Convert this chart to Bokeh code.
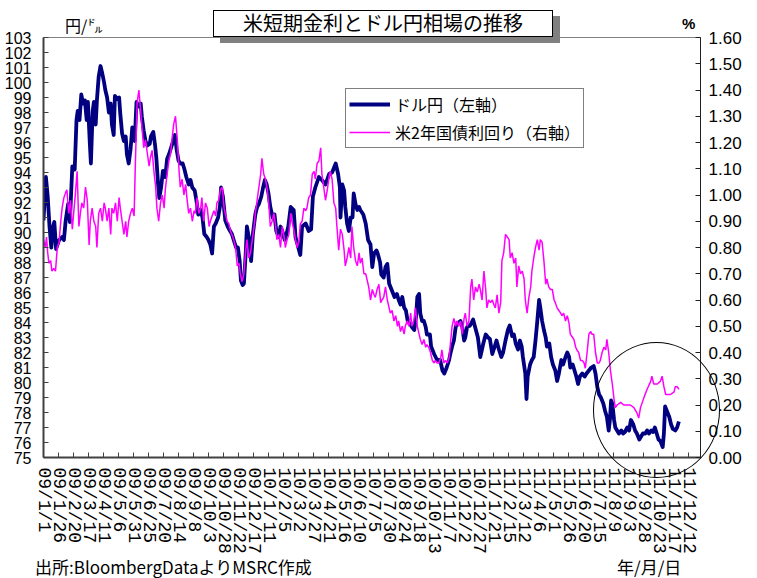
import pandas as pd
from bokeh.plotting import figure
from bokeh.layouts import column
from bokeh.models import (Range1d, LinearAxis, FixedTicker, NumeralTickFormatter,
                          CustomJSTickFormatter, Legend, LegendItem, Div,
                          ColumnDataSource, AllLabels)
from bokeh.embed import file_html
from bokeh.resources import INLINE

# ---------------- data ----------------
START = "2009-01-01"
END = "2012-01-01"

x_labels = ["09/1/1", "09/1/26", "09/2/20", "09/3/17", "09/4/11", "09/5/6", "09/5/31",
            "09/6/25", "09/7/20", "09/8/14", "09/9/8", "09/10/3", "09/10/28", "09/11/22",
            "09/12/17", "10/1/11", "10/2/5", "10/3/2", "10/3/27", "10/4/21", "10/5/16",
            "10/6/10", "10/7/5", "10/7/30", "10/8/24", "10/9/18", "10/10/13", "10/11/7",
            "10/12/2", "10/12/27", "11/1/21", "11/2/15", "11/3/12", "11/4/6", "11/5/1",
            "11/5/26", "11/6/20", "11/7/15", "11/8/9", "11/9/3", "11/9/28", "11/10/23",
            "11/11/17", "11/12/12"]

jpy_ticks = list(range(75, 104))
yield_ticks = [0.0, 0.1, 0.2, 0.3, 0.4, 0.5, 0.6, 0.7, 0.8, 0.9, 1.0,
               1.1, 1.2, 1.3, 1.4, 1.5, 1.6]

TITLE = "米短期金利とドル円相場の推移"
LEFT_UNIT = "円/㌦"
RIGHT_UNIT = "%"
SOURCE = "出所:BloombergDataよりMSRC作成"
X_UNIT = "年/月/日"
SERIES_NAMES = ["ドル円（左軸）", "米2年国債利回り（右軸）"]

# USD/JPY (days since 2009-01-01)
jpy_day = [0, 4, 7, 10, 13, 16, 18, 21, 26, 31,
           34, 37, 41, 44, 48, 52, 55, 57, 60, 63,
           66, 69, 72, 74, 77, 79, 82, 84, 87, 89,
           92, 95, 98, 101, 103, 106, 109, 112, 114, 117,
           119, 123, 126, 128, 131, 134, 137, 139, 142, 145,
           148, 152, 155, 158, 162, 164, 167, 170, 173, 177,
           179, 183, 186, 188, 191, 193, 196, 199, 203, 206,
           209, 213, 216, 219, 222, 225, 228, 232, 235, 238,
           242, 245, 248, 252, 255, 258, 262, 265, 268, 272,
           275, 278, 281, 284, 287, 291, 294, 296, 299, 303,
           307, 311, 314, 317, 321, 324, 327, 329, 332, 334,
           337, 339, 343, 346, 349, 353, 356, 359, 363, 366,
           369, 372, 375, 378, 382, 385, 388, 392, 395, 398,
           402, 405, 408,
           412, 417, 420, 426, 428, 431, 437, 442, 446, 449,
           453, 459, 464, 470, 476, 481, 487, 491, 494, 495,
           498, 501, 503, 506, 509, 512, 515, 517, 520, 523,
           526, 528, 533, 537, 541, 545, 548, 551, 555, 557,
           561, 563, 567, 570, 573, 576, 578, 581, 585, 589,
           592, 595, 598, 601, 604, 607, 611, 614, 618, 621,
           623, 626, 628, 631, 634, 637, 639, 644, 646, 651,
           656, 661, 665, 668, 672, 676, 678, 681, 684, 687,
           689, 695, 698, 701, 703, 706,
           711, 716, 720, 724, 728, 733, 737, 741, 744, 748,
           752, 755, 759, 763, 766, 770, 774, 777, 781, 784,
           787, 791, 794, 797, 799, 803, 805, 807, 811, 814,
           817, 820, 823, 826, 828, 831, 834, 837, 839, 843,
           846, 849, 853, 856, 859, 863, 866, 870, 873, 876,
           878, 882, 885, 888, 891, 894, 898, 902, 905, 909,
           913, 917, 920, 923, 926, 929, 933, 936, 939, 942,
           944, 946, 948, 951, 953, 956, 959, 963, 966, 969,
           973, 976, 979, 983, 986, 989, 993, 996, 999, 1003,
           1006, 1009, 1013, 1016, 1019, 1022, 1025, 1028, 1032, 1034,
           1036, 1039, 1043, 1046, 1049, 1053, 1056, 1059]
jpy_val = [90.8, 93.7, 92.4, 90.4, 89.0, 90.4, 90.7, 88.9, 89.5, 89.7,
           89.5, 90.8, 91.9, 90.7, 94.4, 94.2, 97.5, 98.1, 97.5, 99.2,
           98.6, 98.8, 97.5, 98.7, 96.1, 94.6, 98.1, 98.7, 97.2, 98.8,
           100.4, 101.1, 100.6, 100.0, 99.5, 99.0, 98.0, 98.6, 97.2, 96.5,
           99.1, 98.9, 99.0, 97.9, 96.6, 96.1, 96.4, 95.2, 94.6, 95.5,
           97.0, 96.1, 98.7, 98.4, 98.6, 97.7, 96.8, 96.1, 95.8, 95.9,
           96.4, 96.7, 95.8, 95.0, 93.2, 92.3, 93.0, 94.1, 93.7, 94.9,
           95.2, 95.7, 96.1, 96.5, 95.5, 94.8, 94.6, 94.6, 94.2, 93.7,
           93.2, 93.5, 93.0, 92.8, 92.1, 91.2, 91.5, 91.0, 89.9, 89.7,
           89.5, 89.2, 88.6, 90.4, 90.6, 91.0, 91.7, 93.0, 92.4, 90.8,
           90.4, 90.1, 89.9, 89.5, 89.0, 89.0, 88.1, 86.8, 86.5, 86.6,
           88.6, 90.4, 89.5, 88.1, 89.9, 91.2, 91.7, 91.9, 92.4, 93.0,
           93.5, 93.2, 92.6, 91.7, 91.0, 91.2, 90.1, 89.7, 90.4, 90.1,
           89.5, 89.9, 90.4,
           91.7, 91.5, 89.7, 88.8, 88.5, 90.4, 90.6, 90.1, 90.2, 92.4,
           93.0, 93.7, 93.5, 93.2, 93.9, 94.0, 94.6, 93.9, 93.0, 91.0,
           93.2, 92.8, 91.7, 90.6, 90.1, 91.0, 91.0, 92.6, 91.9, 91.5,
           91.7, 91.5, 91.2, 90.6, 89.5, 89.2, 87.7, 88.6, 88.8, 88.6,
           88.0, 87.2, 87.0, 87.7, 87.9, 86.6, 86.4, 86.1, 85.7, 85.9,
           85.5, 85.2, 85.7, 85.0, 84.8, 84.1, 83.9, 83.7, 83.5, 84.4,
           85.7, 85.9, 84.6, 84.1, 84.1, 83.7, 83.2, 83.2, 82.4, 81.9,
           81.5, 81.5, 80.8, 80.6, 81.0, 81.5, 81.9, 82.4, 82.8, 83.7,
           83.9, 84.1, 83.7, 82.8, 83.0, 83.7,
           83.8, 84.2, 83.6, 83.0, 81.7, 82.6, 83.2, 83.0, 82.9, 81.9,
           82.4, 82.8, 82.2, 81.7, 82.0, 82.8, 83.5, 83.8, 83.1, 83.2,
           82.6, 82.2, 82.8, 82.4, 81.7, 80.6, 78.9, 80.4, 81.2, 81.5,
           81.7, 82.8, 84.1, 85.5, 85.0, 84.1, 83.5, 83.0, 82.4, 82.6,
           81.7, 81.2, 80.8, 80.1, 80.6, 81.5, 81.2, 81.7, 82.0, 81.7,
           81.0, 81.2, 80.8, 80.4, 79.9, 80.4, 80.6, 80.4, 80.6, 80.8,
           81.0, 81.1, 80.6, 79.7, 79.2, 79.0, 78.6, 78.1, 77.7, 76.8,
           77.5, 78.8, 78.6, 77.5, 77.0, 76.8, 76.6, 76.8, 76.6, 76.7,
           77.0, 76.8, 77.5, 77.2, 76.8, 76.6, 76.2, 76.4, 76.6, 76.6,
           76.8, 76.6, 76.8, 76.7, 77.0, 76.6, 76.2, 76.1, 75.7, 76.6,
           78.4, 78.1, 77.7, 77.2, 76.9, 76.8, 77.0, 77.4]

# US 2-year yield, % (days since 2009-01-01)
ust_day = [0, 3, 5, 7, 9, 12, 14, 17, 20, 23,
           26, 28, 31, 34, 37, 39, 42, 45, 48, 51,
           53, 56, 59, 62, 64, 67, 70, 73, 76, 78,
           81, 84, 87, 89, 92, 95, 98, 101, 103, 106,
           109, 112, 114, 117, 120, 123, 126, 128, 131, 134,
           137, 139, 142, 145, 148, 151, 153, 156, 159, 162,
           164, 167, 170, 173, 176, 178, 181, 184, 187, 189,
           192, 195, 198, 201, 203, 206, 209, 212, 214, 217,
           220, 223, 226, 228, 231, 234, 237, 239, 242, 245,
           248, 251, 253, 256, 259, 262, 264, 267, 270, 273,
           276, 278, 281, 284, 287, 289, 292, 295, 298, 301,
           303, 306, 309, 312, 314, 317, 320, 323, 326, 328,
           331, 334, 337, 339, 342, 345, 348, 351, 353, 356,
           359, 362, 364, 367, 370, 373, 376, 378, 381, 384,
           387, 389, 392, 395, 398, 401, 403, 406, 409,
           412, 414, 417, 420, 423, 426, 428, 431, 434, 437,
           439, 442, 445, 448, 451, 453, 456, 459, 462, 464,
           467, 470, 473, 476, 478, 481, 484, 487, 489, 492,
           495, 498, 501, 503, 506, 509, 512, 514, 517, 520,
           523, 526, 528, 531, 534, 537, 539, 542, 545, 548,
           551, 553, 556, 559, 562, 564, 567, 570, 573, 576,
           578, 581, 584, 587, 590, 592, 595, 598, 601, 603,
           606, 609, 612, 614, 617, 620, 623, 626, 628, 631,
           634, 637, 639, 642, 645, 648, 651, 653, 656, 659,
           662, 664, 667, 670, 673, 676, 678, 681, 684, 687,
           689, 692, 695, 698, 701, 703, 706, 709,
           712, 714, 717, 720, 723, 726, 728, 731, 734, 737,
           739, 742, 745, 748, 751, 753, 756, 759, 762, 764,
           767, 770, 773, 776, 778, 781, 784, 787, 789, 792,
           795, 798, 801, 803, 806, 809, 812, 814, 817, 820,
           823, 826, 828, 831, 834, 837, 839, 842, 845, 848,
           851, 853, 856, 859, 862, 864, 867, 870, 873, 876,
           878, 881, 884, 887, 889, 892, 895, 898, 901, 903,
           906, 909, 912, 914, 917, 920, 923, 926, 928, 931,
           934, 937, 939, 942, 945, 948, 951, 953, 956, 962,
           967, 973, 978, 984, 989, 992, 995, 1001, 1006, 1012,
           1014, 1017, 1023, 1028, 1031, 1034, 1037, 1039, 1045, 1051,
           1053, 1056, 1059]
ust_val = [0.83, 0.80, 0.84, 0.78, 0.74, 0.75, 0.71, 0.72, 0.71, 0.80,
           0.82, 0.88, 0.95, 0.99, 1.01, 1.02, 0.93, 0.98, 0.87, 0.95,
           1.00, 1.09, 0.88, 0.94, 0.97, 0.95, 1.03, 0.98, 0.81, 0.90,
           0.95, 0.90, 0.88, 0.80, 0.93, 0.95, 0.90, 0.97, 0.95, 0.90,
           0.95, 0.85, 0.95, 0.93, 0.97, 0.90, 0.99, 0.95, 0.90, 0.85,
           0.90, 0.84, 0.90, 0.93, 0.95, 0.92, 1.11, 1.35, 1.40, 1.32,
           1.26, 1.18, 1.21, 1.16, 1.11, 1.14, 1.17, 1.09, 1.03, 0.95,
           0.90, 0.97, 1.00, 0.95, 1.02, 1.08, 1.13, 1.16, 1.21, 1.27,
           1.30, 1.21, 1.09, 1.03, 1.06, 1.00, 1.04, 0.99, 0.93, 0.95,
           0.90, 0.94, 0.93, 0.99, 0.93, 0.95, 0.99, 0.90, 0.97, 0.95,
           0.88, 0.90, 0.92, 0.94, 0.92, 0.97, 0.98, 1.02, 1.03, 0.95,
           0.93, 0.90, 0.89, 0.86, 0.85, 0.83, 0.80, 0.73, 0.74, 0.70,
           0.67, 0.70, 0.79, 0.83, 0.76, 0.78, 0.83, 0.88, 0.93, 0.98,
           1.03, 1.08, 1.14, 1.08, 1.06, 1.02, 0.95, 0.88, 0.90, 0.93,
           0.88, 0.83, 0.85, 0.80, 0.88, 0.84, 0.80, 0.83, 0.85,
           0.93, 0.90, 0.87, 0.83, 0.80, 0.83, 0.89, 0.90, 0.95, 0.94,
           0.95, 0.99, 1.00, 1.08, 1.09, 1.06, 1.12, 1.13, 1.18, 1.08,
           1.03, 0.98, 1.02, 1.07, 1.09, 1.06, 0.97, 0.95, 0.88, 0.79,
           0.87, 0.85, 0.79, 0.73, 0.76, 0.80, 0.76, 0.88, 0.80, 0.75,
           0.73, 0.78, 0.74, 0.76, 0.70, 0.70, 0.68, 0.65, 0.60, 0.64,
           0.62, 0.61, 0.64, 0.66, 0.59, 0.60, 0.61, 0.65, 0.60, 0.57,
           0.55, 0.56, 0.52, 0.54, 0.50, 0.52, 0.48, 0.50, 0.47, 0.50,
           0.52, 0.50, 0.55, 0.50, 0.52, 0.57, 0.50, 0.47, 0.45, 0.43,
           0.45, 0.42, 0.43, 0.42, 0.40, 0.37, 0.36, 0.37, 0.36, 0.36,
           0.38, 0.41, 0.36, 0.37, 0.36, 0.38, 0.43, 0.50, 0.53, 0.50,
           0.52, 0.50, 0.52, 0.47, 0.53, 0.55, 0.50, 0.52,
           0.65, 0.68, 0.60, 0.65, 0.63, 0.66, 0.64, 0.60, 0.71, 0.64,
           0.57, 0.60, 0.59, 0.60, 0.58, 0.57, 0.62, 0.55, 0.59, 0.75,
           0.78, 0.85, 0.84, 0.83, 0.76, 0.78, 0.74, 0.76, 0.65, 0.73,
           0.70, 0.71, 0.68, 0.60, 0.55, 0.61, 0.65, 0.71, 0.76, 0.80,
           0.83, 0.79, 0.83, 0.82, 0.75, 0.66, 0.68, 0.65, 0.64, 0.64,
           0.60, 0.59, 0.57, 0.56, 0.55, 0.54, 0.55, 0.52, 0.54, 0.51,
           0.47, 0.46, 0.45, 0.42, 0.41, 0.40, 0.37, 0.37, 0.36, 0.34,
           0.40, 0.47, 0.48, 0.47, 0.47, 0.40, 0.36, 0.36, 0.37, 0.40,
           0.42, 0.41, 0.45, 0.40, 0.33, 0.28, 0.22, 0.19, 0.20, 0.21,
           0.20, 0.20, 0.20, 0.19, 0.17, 0.15, 0.19, 0.23, 0.26, 0.29,
           0.31, 0.28, 0.28, 0.29, 0.31, 0.27, 0.24, 0.24, 0.24, 0.25,
           0.27, 0.27, 0.26]

# ---------------- derived ----------------
t0 = pd.Timestamp(START)
jpy_dates = t0 + pd.to_timedelta(jpy_day, unit="D")
ust_dates = t0 + pd.to_timedelta(ust_day, unit="D")


def label_to_ms(s):
    yy, mm, dd = s.split("/")
    ts = pd.Timestamp(2000 + int(yy), int(mm), int(dd))
    return int(ts.value // 10**6)


tick_ms = [label_to_ms(s) for s in x_labels]

src_jpy = ColumnDataSource(dict(x=jpy_dates, y=jpy_val))
src_ust = ColumnDataSource(dict(x=ust_dates, y=ust_val))

JP = "Noto Sans CJK JP"
W, H = 757, 578

p = figure(width=W, height=H, x_axis_type="datetime",
           x_range=Range1d(pd.Timestamp(START), pd.Timestamp(END)),
           y_range=Range1d(75, 103),
           output_backend="svg", toolbar_location=None,
           min_border_left=43, min_border_right=57,
           min_border_top=37, min_border_bottom=121)
p.extra_y_ranges = {"ust": Range1d(0, 1.6)}
p.grid.visible = False
p.background_fill_color = "white"
p.border_fill_color = "white"
p.outline_line_color = "#808080"
p.outline_line_width = 1

# left axis
ya = p.yaxis[0]
ya.ticker = FixedTicker(ticks=jpy_ticks)
ya.major_label_policy = AllLabels()
ya.major_tick_in = 5
ya.major_tick_out = 0
ya.minor_tick_line_color = None
ya.axis_line_width = 2
ya.axis_line_color = "#404040"
ya.major_tick_line_color = "#404040"
ya.major_label_standoff = 12
ya.major_label_text_font = "Liberation Sans"
ya.major_label_text_font_size = "16px"
ya.major_label_text_color = "black"

# right axis
ra = LinearAxis(y_range_name="ust", ticker=FixedTicker(ticks=yield_ticks),
                formatter=NumeralTickFormatter(format="0.00"))
ra.major_label_policy = AllLabels()
ra.major_tick_in = 5
ra.major_tick_out = 0
ra.minor_tick_line_color = None
ra.axis_line_color = "#202020"
ra.major_tick_line_color = "#202020"
ra.major_label_standoff = 8
ra.major_label_text_font = "Liberation Sans"
ra.major_label_text_font_size = "17px"
ra.major_label_text_color = "black"
p.add_layout(ra, "right")

# bottom axis
xa = p.xaxis[0]
xa.ticker = FixedTicker(ticks=tick_ms)
xa.formatter = CustomJSTickFormatter(
    args=dict(tick_vals=tick_ms, tick_texts=x_labels),
    code="const i = tick_vals.indexOf(tick); return i >= 0 ? tick_texts[i] : '';")
xa.major_label_policy = AllLabels()
xa.major_label_orientation = "vertical"
xa.major_tick_in = 5
xa.major_tick_out = 0
xa.minor_tick_line_color = None
xa.axis_line_width = 2
xa.axis_line_color = "#404040"
xa.major_tick_line_color = "#404040"
xa.major_label_standoff = 10
xa.major_label_text_font = "Liberation Mono"
xa.major_label_text_font_size = "18px"
xa.major_label_text_color = "black"

# lines
r1 = p.line("x", "y", source=src_jpy, line_color="#000080", line_width=3.8,
            line_join="round")
r2 = p.line("x", "y", source=src_ust, line_color="#FF00FF", line_width=1.5,
            y_range_name="ust")

legend = Legend(items=[LegendItem(label=SERIES_NAMES[0], renderers=[r1]),
                       LegendItem(label=SERIES_NAMES[1], renderers=[r2])],
                location=(302, 309))
legend.label_text_font = JP
legend.label_text_font_size = "16px"
legend.label_text_color = "black"
legend.glyph_width = 41
legend.glyph_height = 18
legend.label_height = 18
legend.label_standoff = 5
legend.spacing = 4
legend.padding = 3
legend.margin = 0
legend.border_line_color = "black"
legend.border_line_width = 1
legend.background_fill_color = "white"
legend.background_fill_alpha = 1
p.add_layout(legend)

# ---- decorations drawn above the canvas (not clipped to the plot frame) ----
TXT = "position:absolute;white-space:nowrap;color:#000;font-family:'Noto Sans CJK JP';"
overlay_html = (
    f'<div style="{TXT}left:213px;top:10px;width:340px;height:27px;box-sizing:border-box;'
    f'border:1.5px solid #000;background:#fff;box-shadow:7px 6px 0 #808080;'
    f'font-size:20px;line-height:24px;text-align:center;">{TITLE}</div>'
    f'<div style="{TXT}left:65px;top:15px;font-size:16px;line-height:20px;">{LEFT_UNIT}</div>'
    f'<div style="{TXT}left:682px;top:14px;font-size:15px;line-height:20px;'
    f'font-family:\'Liberation Sans\';font-weight:bold;">{RIGHT_UNIT}</div>'
    f'<div style="{TXT}left:35px;top:556px;font-size:17px;line-height:21px;">{SOURCE}</div>'
    f'<div style="{TXT}left:617px;top:556px;font-size:17px;line-height:21px;">{X_UNIT}</div>'
    f'<div style="position:absolute;left:593px;top:342px;width:127px;height:136px;'
    f'box-sizing:border-box;border:1.2px solid #000;border-radius:50%;"></div>'
)
overlay = Div(text=overlay_html, width=1, height=1, margin=0,
              styles={"position": "absolute", "left": "0px", "top": "0px",
                      "pointer-events": "none", "overflow": "visible",
                      "z-index": "10"})

root = column(p, overlay, styles={"position": "relative"})

open("out.html", "w").write(file_html(root, INLINE))
